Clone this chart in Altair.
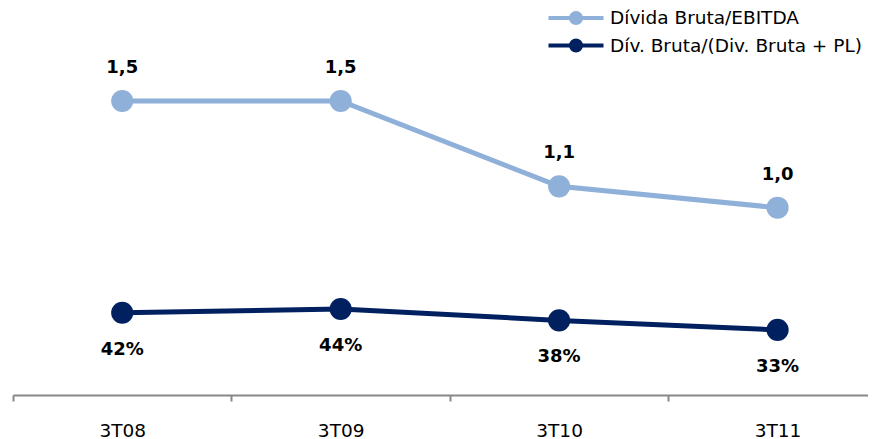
import altair as alt
import pandas as pd

categories = ["3T08", "3T09", "3T10", "3T11"]
serie_a = "Dívida Bruta/EBITDA"
serie_b = "Dív. Bruta/(Div. Bruta + PL)"
valores_a = [1.5, 1.5, 1.1, 1.0]
valores_b = [0.42, 0.44, 0.38, 0.33]

cor_a = "#8FB0D8"
cor_b = "#002060"
FONT = "DejaVu Sans"

rows = []
for i, c in enumerate(categories):
    rows.append({"idx": i, "cat": c, "serie": serie_a, "v": valores_a[i]})
    rows.append({"idx": i, "cat": c, "serie": serie_b, "v": valores_b[i]})
df = pd.DataFrame(rows)

cat_list = "[" + ",".join("'" + c + "'" for c in categories) + "]"

x_enc = alt.X(
    "idx:Q",
    scale=alt.Scale(domain=[-0.5, 3.414], nice=False, zero=False),
    axis=alt.Axis(
        title=None,
        values=[-0.5, 0, 0.5, 1, 1.5, 2, 2.5, 3],
        labelExpr=f"datum.value % 1 === 0 ? {cat_list}[datum.value] : ''",
        tickOpacity={"condition": {"test": "datum.value % 1 === 0", "value": 0}, "value": 1},
        grid=False,
        domainColor="#888888",
        domainWidth=2,
        tickColor="#888888",
        tickWidth=2,
        tickSize=6,
        labelPadding=29,
        labelBaseline="middle",
        labelFont=FONT,
        labelFontSize=18.5,
        labelColor="#000000",
    ),
)

legend = alt.Legend(
    title=None,
    orient="none",
    legendX=551,
    legendY=-2,
    symbolType="M-2.75,0L2.75,0M-0.5,0A0.5,0.5 0 1,1 0.5,0A0.5,0.5 0 1,1 -0.5,0Z",
    symbolSize=400,
    symbolStrokeWidth=4,
    symbolOpacity=1,
    labelFont=FONT,
    labelFontSize=18.5,
    labelColor="#000000",
    labelLimit=0,
    rowPadding=1.5,
    labelOffset=22,
    padding=0,
)

scale_c = alt.Scale(domain=[serie_a, serie_b], range=[cor_a, cor_b])
stroke_enc = alt.Stroke("serie:N", scale=scale_c, legend=legend)
fill_enc = alt.Fill("serie:N", scale=scale_c, legend=legend)

base = alt.Chart(df)


def serie_layer(nome, domain, fmt_expr, dy):
    src = base.transform_filter(alt.datum.serie == nome)
    y_enc = alt.Y("v:Q", scale=alt.Scale(domain=domain, nice=False, zero=False), axis=None)
    line = src.mark_line(strokeWidth=5).encode(x=x_enc, y=y_enc, stroke=stroke_enc)
    pts = src.mark_circle(size=490, opacity=1, strokeWidth=0).encode(
        x=x_enc, y=y_enc, fill=fill_enc, stroke=stroke_enc
    )
    txt = (
        src.transform_calculate(lbl=fmt_expr)
        .mark_text(font=FONT, fontSize=18, fontWeight="bold", color="#000000", dy=dy, baseline="middle")
        .encode(x=x_enc, y=y_enc, text="lbl:N")
    )
    return alt.layer(line, pts, txt)


layer_a = serie_layer(serie_a, [0.1223, 1.9358], "replace(format(datum.v, '.1f'), '.', ',')", -33)
layer_b = serie_layer(serie_b, [-0.0126, 2.024], "format(datum.v, '.0%')", 37)

chart = (
    alt.layer(layer_a, layer_b)
    .resolve_scale(y="independent")
    .properties(
        width=855,
        height=387,
        autosize=alt.AutoSizeParams(type="none"),
        padding={"left": 5, "top": 0, "right": 0, "bottom": 44},
        background="white",
    )
    .configure_view(stroke=None)
)

chart.save("out.html", embed_options={"renderer": "svg", "actions": False})
